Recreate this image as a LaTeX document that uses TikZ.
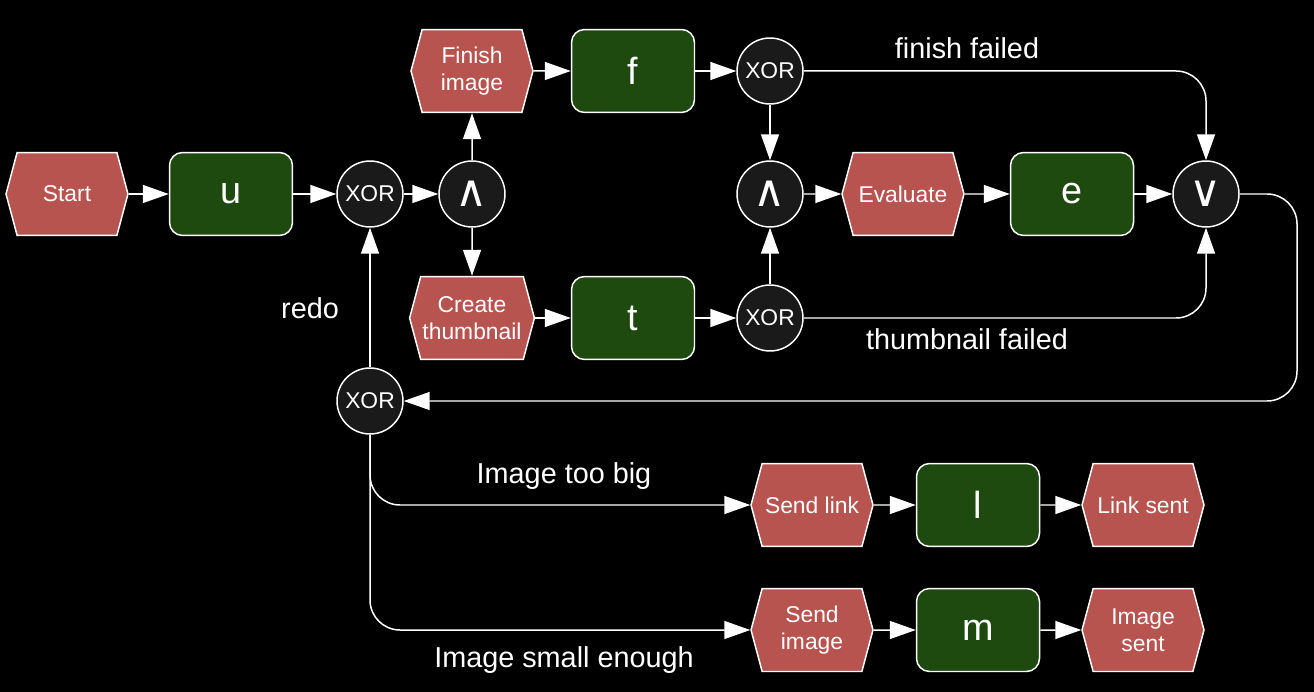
\documentclass[tikz,border=0pt]{standalone}
\usepackage{fontspec}
\setmainfont{Liberation Sans}
\newfontfamily\gatefont{DejaVu Sans}
\usetikzlibrary{shapes.symbols,arrows.meta}

\definecolor{eventred}{HTML}{B85450}
\definecolor{funcgreen}{HTML}{1E4A10}
\definecolor{gategray}{HTML}{1A1A1A}

\begin{document}
\begin{tikzpicture}[
          x=0.02cm, y=-0.02cm,
          event/.style={signal,signal to=west and east,signal pointer angle=150,
            fill=eventred,draw=white,line width=0.85pt,minimum width=2.44cm,
            minimum height=1.66cm,inner sep=1pt,text=white,align=center,
            font=\fontsize{13}{15.5}\selectfont},
          func/.style={rectangle,rounded corners=0.26cm,fill=funcgreen,draw=white,
            line width=0.85pt,minimum width=2.46cm,minimum height=1.66cm,
            text=white,font=\fontsize{21.5}{24}\selectfont},
          gate/.style={circle,fill=gategray,draw=white,line width=0.85pt,
            minimum size=1.32cm,inner sep=0pt,text=white,
            font=\fontsize{13}{15}\selectfont},
          wedge/.style={gate,font=\gatefont\fontsize{25}{28}\selectfont},
          link/.style={draw=white,line width=0.85pt,rounded corners=0.6cm,
            -{Triangle[length=0.52cm,width=0.36cm]}},
          note/.style={text=white,font=\fontsize{16.4}{19}\selectfont},
        ]

        \fill[black] (0, 0) rectangle (1314, 692);

        % upper flow
        \node[event] (start) at (67, 194) {Start};
        \node[func] (u) at (231, 194) {u};
        \node[gate] (xora) at (370, 194) {XOR};
        \node[wedge] (anda) at (472, 194) {∧};
        \node[event] (finish) at (472, 71) {Finish\\image};
        \node[func] (f) at (633, 71) {f};
        \node[gate] (xorf) at (770, 71) {XOR};
        \node[event] (create) at (472, 318) {Create\\thumbnail};
        \node[func] (t) at (633, 318) {t};
        \node[gate] (xort) at (770, 318) {XOR};
        \node[wedge] (andb) at (770, 194) {∧};
        \node[event] (evaluate) at (903, 194) {Evaluate};
        \node[func] (e) at (1072, 194) {e};
        \node[wedge] (or) at (1206, 194) {∨};

        % lower flow
        \node[gate] (xorb) at (370, 401) {XOR};
        \node[event] (sendlink) at (812, 505) {Send link};
        \node[func] (l) at (978, 505) {l};
        \node[event] (linksent) at (1143, 505) {Link sent};
        \node[event] (sendimage) at (812, 630) {Send\\image};
        \node[func] (m) at (978, 630) {m};
        \node[event] (imagesent) at (1143, 630) {Image\\sent};
        \coordinate (loop) at (1297, 401);

        \draw[link] (start) -- (u);
        \draw[link] (u) -- (xora);
        \draw[link] (xora) -- (anda);
        \draw[link] (anda) -- (finish);
        \draw[link] (anda) -- (create);
        \draw[link] (finish) -- (f);
        \draw[link] (f) -- (xorf);
        \draw[link] (create) -- (t);
        \draw[link] (t) -- (xort);
        \draw[link] (xorf) -- (andb);
        \draw[link] (xort) -- (andb);
        \draw[link] (andb) -- (evaluate);
        \draw[link] (evaluate) -- (e);
        \draw[link] (e) -- (or);
        \draw[link] (xorf) -| (or);
        \draw[link] (xort) -| (or);
        \draw[link] (or) -| (loop) -- (xorb);
        \draw[link] (xorb) -- (xora);
        \draw[link] (xorb) |- (sendlink);
        \draw[link] (xorb) |- (sendimage);
        \draw[link] (sendlink) -- (l);
        \draw[link] (l) -- (linksent);
        \draw[link] (sendimage) -- (m);
        \draw[link] (m) -- (imagesent);

        \node[note] (finishfailed) at (967, 48) {finish failed};
        \node[note] (thumbfailed) at (967, 339) {thumbnail failed};
        \node[note] (redo) at (310, 308) {redo};
        \node[note] (toobig) at (564, 476) {Image too big};
        \node[note] (smallenough) at (564, 660) {Image small enough};

      \end{tikzpicture}
\end{document}
